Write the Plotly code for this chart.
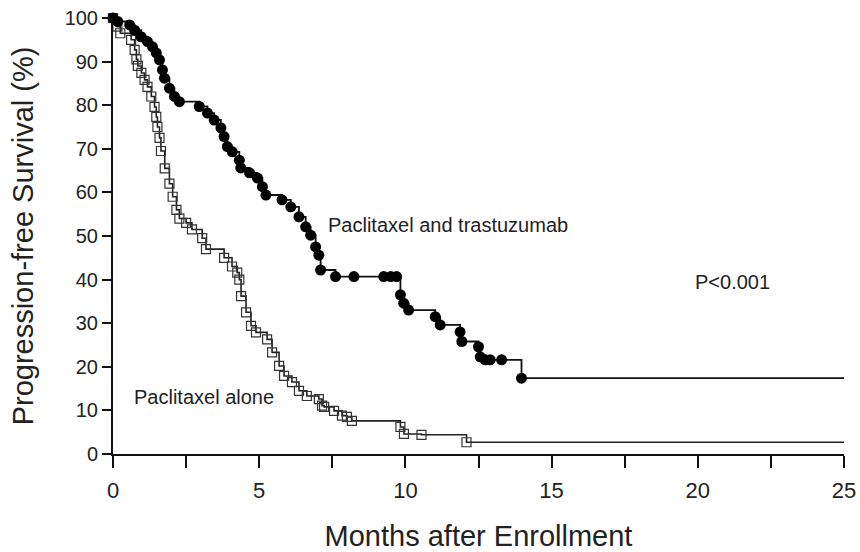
import plotly.graph_objects as go

# Paclitaxel and trastuzumab (filled circles): months, % progression-free
combo_t = [0, 0.16, 0.57, 0.74, 0.96, 1.18, 1.35, 1.48, 1.59, 1.69, 1.76, 1.93, 2.1, 2.27,
           2.95, 3.23, 3.46, 3.69, 3.8, 3.91, 4.08, 4.32, 4.37, 4.67, 4.94, 5.11, 5.23,
           5.78, 6.08, 6.36, 6.59, 6.76, 6.93, 7.04, 7.1, 7.61, 8.24, 9.26, 9.5, 9.7,
           9.83, 9.94, 10.11, 11.02, 11.19, 11.87, 11.93, 12.5, 12.56, 12.73, 12.9, 13.29, 13.97]
combo_s = [100, 99.2, 98.4, 97.2, 95.7, 94.6, 93.4, 92.0, 90.4, 88.1, 86.2, 83.9, 82.0, 80.8,
           79.7, 78.2, 76.6, 74.8, 72.8, 70.5, 69.3, 67.4, 65.6, 64.5, 63.3, 61.3, 59.4,
           58.3, 56.7, 54.4, 52.1, 50.2, 47.5, 45.6, 42.2, 40.7, 40.7, 40.7, 40.7, 40.7,
           36.5, 34.6, 33.0, 31.5, 29.6, 28.0, 25.8, 24.6, 22.3, 21.6, 21.6, 21.6, 17.4]

# Paclitaxel alone (open squares)
alone_t = [0, 0.15, 0.25, 0.62, 0.74, 0.8, 0.85, 0.97, 1.08, 1.18, 1.31, 1.42, 1.48, 1.52,
           1.59, 1.64, 1.77, 1.93, 2.04, 2.17, 2.27, 2.5, 2.7, 3.05, 3.18, 3.8, 4.07, 4.25,
           4.32, 4.38, 4.55, 4.72, 4.89, 5.27, 5.44, 5.68, 5.85, 6.12, 6.36, 6.63, 7.04,
           7.15, 7.22, 7.56, 7.83, 8.0, 8.17, 9.83, 9.95, 10.55, 12.09]
alone_s = [100, 98, 96.5, 95, 92.7, 90.5, 89, 87.4, 85.8, 84.2, 82, 79.6, 77.3, 75,
           72.5, 69.5, 65.5, 62, 59, 56, 54, 53, 51.5, 49.5, 47, 45, 43, 41.6,
           40, 36.2, 32.5, 29.4, 27.9, 26.3, 23.3, 20.2, 17.9, 16.5, 14.5, 13.3, 12.6,
           11.1, 10.8, 9.9, 8.8, 8.5, 7.6, 6.2, 4.6, 4.4, 2.7]

x_end = 25
x_ticks = [0, 5, 10, 15, 20, 25]
y_ticks = [0, 10, 20, 30, 40, 50, 60, 70, 80, 90, 100]

FONT = "Liberation Sans, Arial, sans-serif"

fig = go.Figure()

# step lines
fig.add_trace(go.Scatter(x=alone_t + [x_end], y=alone_s + [alone_s[-1]], mode="lines",
                         line=dict(shape="hv", color="#222", width=1.6),
                         hoverinfo="skip", showlegend=False, cliponaxis=False))
fig.add_trace(go.Scatter(x=combo_t + [x_end], y=combo_s + [combo_s[-1]], mode="lines",
                         line=dict(shape="hv", color="#111", width=1.8),
                         hoverinfo="skip", showlegend=False, cliponaxis=False))
# markers
fig.add_trace(go.Scatter(x=alone_t, y=alone_s, mode="markers",
                         marker=dict(symbol="square-open", size=9, color="#333",
                                     line=dict(width=1.2, color="#333")),
                         showlegend=False, cliponaxis=False))
fig.add_trace(go.Scatter(x=combo_t, y=combo_s, mode="markers",
                         marker=dict(symbol="circle", size=11, color="#000"),
                         showlegend=False, cliponaxis=False))

fig.add_annotation(x=7.28, y=52.5, text="Paclitaxel and trastuzumab", showarrow=False,
                   xanchor="left", yanchor="middle", font=dict(family=FONT, size=20, color="#222"))
fig.add_annotation(x=0.65, y=13.0, text="Paclitaxel alone", showarrow=False,
                   xanchor="left", yanchor="middle", font=dict(family=FONT, size=20, color="#222"))
fig.add_annotation(x=19.85, y=39.4, text="P&lt;0.001", showarrow=False,
                   xanchor="left", yanchor="middle", font=dict(family=FONT, size=20, color="#222"))

fig.update_layout(
    width=860, height=552,
    margin=dict(l=113, r=16, t=18, b=98),
    paper_bgcolor="white", plot_bgcolor="white",
    xaxis=dict(range=[0, 25], tickvals=x_ticks, ticktext=[str(v) for v in x_ticks],
               automargin=False,
               showgrid=False, zeroline=False, showline=True, linecolor="#111", linewidth=2,
               ticks="outside", ticklen=12, tickwidth=1.5, tickcolor="#111",
               ticklabelstandoff=4,
               minor=dict(dtick=2.5, ticks="outside", ticklen=12, tickwidth=1.5, tickcolor="#111", showgrid=False),
               tickfont=dict(family=FONT, size=22, color="#222"),
               title=dict(text="Months after Enrollment", font=dict(family=FONT, size=29, color="#222"), standoff=26)),
    yaxis=dict(range=[0, 100], tickvals=y_ticks, ticktext=[str(v) for v in y_ticks],
               automargin=False,
               showgrid=False, zeroline=False, showline=True, linecolor="#111", linewidth=2,
               ticks="outside", ticklen=9, tickwidth=1.5, tickcolor="#111",
               tickfont=dict(family=FONT, size=20, color="#222"),
               title=dict(text="Progression-free Survival (%)", font=dict(family=FONT, size=29, color="#222"), standoff=22)),
)

fig.write_html("out.html")
